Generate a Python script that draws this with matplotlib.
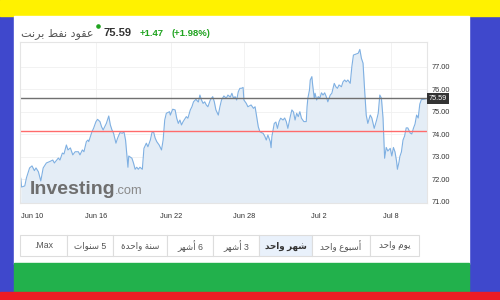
import matplotlib
matplotlib.use('Agg')
import matplotlib.pyplot as plt
from matplotlib.patches import Rectangle
from matplotlib.transforms import blended_transform_factory

plt.rcParams['font.family'] = ['Liberation Sans', 'DejaVu Sans']

# Brent futures, hourly bars over one month (hour index from the left edge)
hours = [1, 2, 6, 8, 12, 15, 18, 20, 23, 26, 29, 33, 37, 41, 43, 48, 50, 53, 55, 58,
         60, 63, 66, 69, 73, 75, 78, 80, 83, 85, 86, 90, 92, 95, 97, 100, 102, 104, 106, 108,
         111, 113, 115, 117, 120, 122, 125, 128, 130, 132, 135, 136, 140, 142, 144, 146, 148, 150, 153, 155,
         158, 160, 163, 165, 167, 169, 171, 174, 177, 179, 181, 183, 187, 188, 191, 194, 196, 198, 200, 202,
         204, 208, 210, 213, 215, 217, 220, 223, 225, 227, 229, 231, 233, 235, 238, 241, 243, 245, 248, 250,
         252, 255, 258, 260, 263, 265, 267, 269, 271, 273, 275, 277, 279, 280, 283, 285, 289, 292, 294, 296,
         298, 300, 302, 304, 306, 308, 310, 313, 314, 315, 318, 320, 322, 324, 326, 329, 331, 333, 335, 338,
         340, 342, 344, 346, 348, 350, 352, 355, 358, 359, 360, 362, 363, 365, 366, 368, 369, 371, 373, 375,
         377, 379, 381, 383, 385, 388, 390, 393, 395, 397, 399, 402, 404, 406, 408, 410, 413, 415, 417, 420,
         423, 425, 427, 429, 431, 433, 435, 438, 440, 443, 446, 448, 450, 452, 454, 456, 458, 460, 463, 465,
         467, 469, 471, 472, 474, 475, 477, 479, 481, 483, 485, 488, 490, 492, 494, 496, 498, 500, 502, 506,
         509]
price = [72.04, 71.65, 71.70, 72.05, 72.50, 72.59, 72.38, 72.50, 72.33, 71.92, 72.50, 72.72, 72.78, 72.85, 72.72, 72.94, 72.85, 73.16, 73.12, 73.52,
         73.30, 73.39, 73.08, 73.22, 73.22, 73.08, 73.30, 73.22, 73.67, 73.74, 73.67, 74.11, 74.26, 74.56, 74.66, 74.56, 74.33, 74.19, 74.33, 74.48,
         74.81, 74.41, 74.19, 74.04, 73.60, 73.82, 74.07, 74.04, 74.11, 73.74, 72.53, 73.03, 72.93, 72.71, 72.44, 72.53, 72.44, 72.53, 72.44, 73.37,
         73.60, 73.44, 73.74, 74.07, 74.11, 73.83, 73.67, 73.52, 73.30, 73.74, 74.63, 74.93, 75.00, 74.85, 75.11, 75.08, 74.71, 74.48, 74.63, 74.41,
         74.56, 74.78, 74.71, 75.08, 75.22, 75.44, 75.55, 75.43, 75.74, 75.52, 75.37, 75.44, 75.30, 75.22, 75.52, 75.67, 75.44, 75.08, 74.85, 75.22,
         75.52, 75.70, 75.60, 75.74, 75.65, 75.82, 75.60, 75.67, 75.52, 75.89, 76.04, 76.04, 76.08, 75.52, 75.37, 75.22, 75.30, 75.15, 75.22, 74.78,
         74.33, 74.11, 74.07, 74.04, 73.92, 73.74, 73.96, 73.67, 73.40, 73.89, 74.48, 74.54, 74.26, 74.56, 74.71, 74.63, 74.72, 74.56, 74.26, 74.78,
         75.08, 74.99, 74.63, 74.93, 74.78, 75.00, 74.71, 74.56, 74.56, 75.22, 75.60, 75.96, 76.41, 76.56, 76.19, 75.60, 75.82, 75.52, 75.67, 75.60,
         75.84, 75.74, 75.84, 75.67, 75.44, 75.74, 75.82, 76.26, 76.11, 76.04, 76.19, 76.11, 76.33, 76.41, 76.33, 76.41, 76.26, 77.00, 77.52, 77.56,
         77.60, 77.77, 77.37, 77.16, 75.96, 74.85, 74.48, 74.85, 74.72, 74.26, 74.63, 74.93, 75.74, 75.60, 74.72, 72.93, 73.41, 73.25, 73.37, 73.03,
         73.41, 73.21, 72.78, 72.44, 72.76, 73.00, 73.21, 73.74, 73.92, 74.28, 74.28, 74.05, 74.01, 74.26, 74.45, 74.85, 74.72, 75.34, 75.54, 75.56,
         75.59]

last_price = 75.59
prev_close = 74.12
change = '+1.47'
change_pct = '(+1.98%)'

tick_hours = [15, 95, 189, 280, 374, 464]
tick_labels = ['Jun 10', 'Jun 16', 'Jun 22', 'Jun 28', 'Jul 2', 'Jul 8']
y_ticks = [71, 72, 73, 74, 75, 76, 77]

title = 'عقود نفط برنت'
periods = ['.Max', '5 سنوات', 'سنة واحدة', '6 أشهر', '3 أشهر', 'شهر واحد', 'أسبوع واحد', 'يوم واحد']
selected = 'شهر واحد'

# arabic presentation forms: isolated, final, initial, medial
FORMS = {
    'ا': (0xFE8D, 0xFE8E, None, None),
    'أ': (0xFE83, 0xFE84, None, None),
    'ب': (0xFE8F, 0xFE90, 0xFE91, 0xFE92),
    'ة': (0xFE93, 0xFE94, None, None),
    'ت': (0xFE95, 0xFE96, 0xFE97, 0xFE98),
    'ح': (0xFEA1, 0xFEA2, 0xFEA3, 0xFEA4),
    'د': (0xFEA9, 0xFEAA, None, None),
    'ر': (0xFEAD, 0xFEAE, None, None),
    'س': (0xFEB1, 0xFEB2, 0xFEB3, 0xFEB4),
    'ش': (0xFEB5, 0xFEB6, 0xFEB7, 0xFEB8),
    'ط': (0xFEC1, 0xFEC2, 0xFEC3, 0xFEC4),
    'ع': (0xFEC9, 0xFECA, 0xFECB, 0xFECC),
    'ف': (0xFED1, 0xFED2, 0xFED3, 0xFED4),
    'ق': (0xFED5, 0xFED6, 0xFED7, 0xFED8),
    'م': (0xFEE1, 0xFEE2, 0xFEE3, 0xFEE4),
    'ن': (0xFEE5, 0xFEE6, 0xFEE7, 0xFEE8),
    'ه': (0xFEE9, 0xFEEA, 0xFEEB, 0xFEEC),
    'و': (0xFEED, 0xFEEE, None, None),
    'ي': (0xFEF1, 0xFEF2, 0xFEF3, 0xFEF4),
}


def rtl(s):
    out = []
    for i, ch in enumerate(s):
        if ch not in FORMS:
            out.append(ch)
            continue
        prev = s[i - 1] if i > 0 else ''
        nxt = s[i + 1] if i + 1 < len(s) else ''
        jp = prev in FORMS and FORMS[prev][2] is not None
        jn = FORMS[ch][2] is not None and nxt in FORMS
        iso, fin, ini, med = FORMS[ch]
        if jp and jn:
            c = med
        elif jp:
            c = fin
        elif jn:
            c = ini
        else:
            c = iso
        out.append(chr(c))
    return ''.join(out)[::-1]


fig = plt.figure(figsize=(5, 3), dpi=100)

# page background (pixel coords)
bg = fig.add_axes([0, 0, 1, 1])
bg.set_xlim(0, 500)
bg.set_ylim(300, 0)
bg.axis('off')
bg.add_patch(Rectangle((0, 0), 500, 300, color='#3f48cc'))
bg.add_patch(Rectangle((0, 0), 500, 16, color='#fff200'))
bg.add_patch(Rectangle((14, 16), 455, 248, color='white'))
bg.add_patch(Rectangle((14, 263), 455, 29, color='#22b14c'))
bg.add_patch(Rectangle((0, 292), 500, 8, color='#ed1c24'))

# header
bg.text(21, 36.5, rtl(title), fontsize=8, color='#555555', va='baseline', ha='left',
        family=['DejaVu Sans'])
bg.plot(98, 26, 'o', ms=2.3, color='#1fa31f')
bg.text(104, 36.5, f'{last_price:.2f}', fontsize=8, fontweight='bold', color='#333333', va='baseline')
bg.text(140, 36.5, change, fontsize=6.8, fontweight='bold', color='#1fa31f', va='baseline')
bg.text(171, 36.5, change_pct, fontsize=6.8, fontweight='bold', color='#1fa31f', va='baseline')

# period buttons
edges = [20, 67, 113, 167, 213, 259, 312, 370, 419]
for i, lab in enumerate(periods):
    x0, x1 = edges[i], edges[i + 1]
    sel = lab == selected
    bg.add_patch(Rectangle((x0, 235), x1 - x0, 21, facecolor='#e9f1fb' if sel else 'white',
                           edgecolor='#dddddd', lw=0.8))
    txt = lab if lab.startswith('.') else rtl(lab)
    bg.text((x0 + x1) / 2, 246, txt, fontsize=6.3, ha='center', va='center',
            color='#333333' if sel else '#555555', fontweight='bold' if sel else 'normal',
            family=['Liberation Sans', 'DejaVu Sans'])

# chart
ax = fig.add_axes([20 / 500, 97 / 300, 407 / 500, 161 / 300])
ax.set_zorder(2)
ax.set_facecolor('white')
ymin, ymax = 70.94, 78.10
ax.fill_between(hours, price, ymin, color='#e4edf6', lw=0)
ax.plot(hours, price, color='#7fb0e2', lw=0.8)
ax.axhline(last_price, color='#707070', lw=1.0)
ax.axhline(prev_close, color='#ff6b6b', lw=1.0)

ax.set_xlim(0, 509)
ax.set_ylim(ymin, ymax)
ax.set_xticks(tick_hours)
ax.set_xticklabels(tick_labels)
ax.set_yticks(y_ticks)
ax.set_yticklabels([f'{v:.2f}' for v in y_ticks])
ax.yaxis.tick_right()
ax.tick_params(axis='both', length=0, labelsize=5.3, colors='#333333')
ax.tick_params(axis='x', pad=7)
ax.tick_params(axis='y', pad=3)
ax.grid(True, color='#f0f0f0', lw=0.6)
ax.set_axisbelow(True)
ax.xaxis.get_gridlines()[0].set_visible(False)
for sp in ax.spines.values():
    sp.set_color('#e5e5e5')
    sp.set_linewidth(0.8)

# current price tag on the axis
tr = blended_transform_factory(ax.transAxes, ax.transData)
ax.text(1.004, last_price, f'{last_price:.2f}', transform=tr, fontsize=5.3, color='white',
        va='center', ha='left', clip_on=False, zorder=5,
        bbox=dict(boxstyle='square,pad=0.25', facecolor='#333333', edgecolor='none'))

# watermark
top = fig.add_axes([0, 0, 1, 1])
top.set_zorder(5)
top.patch.set_alpha(0)
top.set_xlim(0, 500)
top.set_ylim(300, 0)
top.axis('off')
top.text(30, 194, 'Investing', fontsize=14, fontweight='bold', color='#6e6e6e', va='baseline')
top.text(115, 194, '.com', fontsize=9.3, color='#8a8a8a', va='baseline')

fig.savefig('out.png', dpi=100)
